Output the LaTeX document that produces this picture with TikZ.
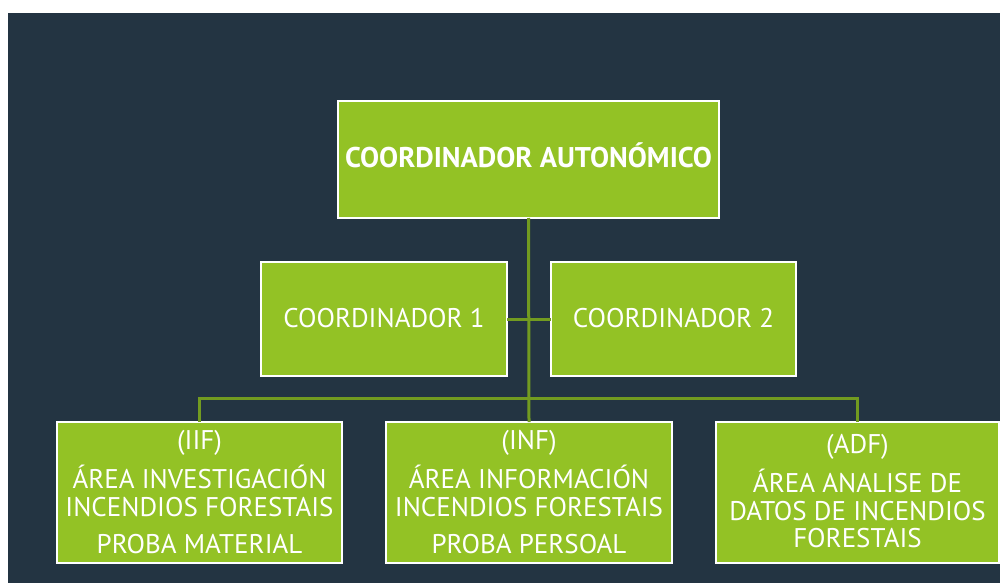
\documentclass[tikz,border=0pt]{standalone}
\usepackage{fontspec}
\setmainfont{PT Sans}
\definecolor{bgdark}{RGB}{35,52,66}
\definecolor{boxgreen}{RGB}{147,194,37}
\definecolor{linegreen}{RGB}{114,155,32}
\tikzset{
  box/.style={draw=white, line width=2.2pt, fill=boxgreen, inner sep=0pt, outer sep=0pt},
  conn/.style={draw=linegreen, line width=3pt},
  lbl/.style={text=white, anchor=base, inner sep=0pt, font=\fontsize{27}{27}\selectfont},
  tlbl/.style={text=white, anchor=base, inner sep=0pt, font=\fontsize{28.5}{28.5}\selectfont\bfseries}
}
\begin{document}
\begin{tikzpicture}[x=1pt,y=-1pt]
\useasboundingbox (0,0) rectangle (1000,583);
\fill[white] (0,0) rectangle (1000,583);
\fill[bgdark] (8,13) rectangle (1000,583);

% boxes
\node[box, minimum width=381pt, minimum height=117pt] (top) at (528.5,159.5) {};
\node[box, minimum width=246pt, minimum height=114pt] (c1) at (384,319) {};
\node[box, minimum width=245pt, minimum height=114pt] (c2) at (673.5,319) {};
\node[box, minimum width=285pt, minimum height=141pt] (b1) at (199.5,492.5) {};
\node[box, minimum width=286pt, minimum height=141pt] (b2) at (529,492.5) {};
\node[box, minimum width=283pt, minimum height=141pt] (b3) at (857.5,492.5) {};

% connectors
\coordinate (bus) at (529,398);
\draw[conn] (top.south) -- (b2.north);
\draw[conn] (c1.east) -- (c2.west);
\draw[conn] (b1.north) |- (bus) -| (b3.north);

% texts
\node[tlbl] (ttop) at (528.5,167) {COORDINADOR AUTONÓMICO};
\node[lbl] (tc1) at (384,327) {COORDINADOR 1};
\node[lbl] (tc2) at (673.5,327) {COORDINADOR 2};

\node[lbl] (t1a) at (199.5,449) {(IIF)};
\node[lbl] (t1b) at (199.5,488) {ÁREA INVESTIGACIÓN};
\node[lbl] (t1c) at (199.5,516) {INCENDIOS FORESTAIS};
\node[lbl] (t1d) at (199.5,553) {PROBA MATERIAL};

\node[lbl] (t2a) at (529,449) {(INF)};
\node[lbl] (t2b) at (529,488) {ÁREA INFORMACIÓN};
\node[lbl] (t2c) at (529,516) {INCENDIOS FORESTAIS};
\node[lbl] (t2d) at (529,553) {PROBA PERSOAL};

\node[lbl] (t3a) at (857.5,453) {(ADF)};
\node[lbl] (t3b) at (857.5,492) {ÁREA ANALISE DE};
\node[lbl] (t3c) at (857.5,520) {DATOS DE INCENDIOS};
\node[lbl] (t3d) at (857.5,547) {FORESTAIS};
\end{tikzpicture}
\end{document}
